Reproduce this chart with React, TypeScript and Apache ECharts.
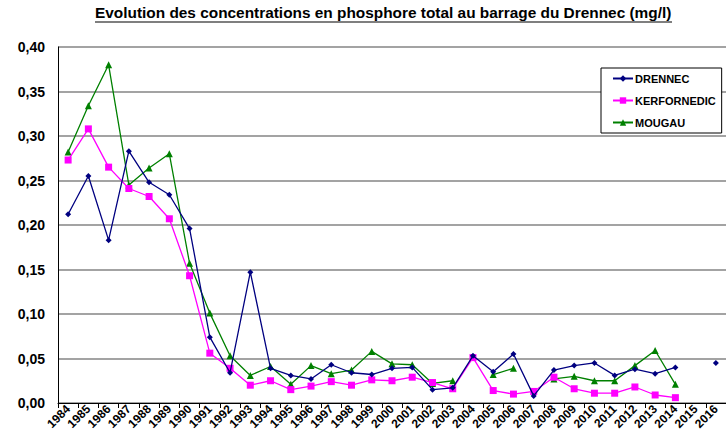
import React, { useEffect, useRef } from "react";
import * as echarts from "echarts";

const years = [
  "1984","1985","1986","1987","1988","1989","1990","1991","1992","1993","1994",
  "1995","1996","1997","1998","1999","2000","2001","2002","2003","2004","2005",
  "2006","2007","2008","2009","2010","2011","2012","2013","2014","2015","2016",
];

const drennec = [
  0.212, 0.255, 0.183, 0.283, 0.248, 0.234, 0.196, 0.074, 0.034, 0.147, 0.039,
  0.031, 0.027, 0.043, 0.034, 0.032, 0.039, 0.040, 0.015, 0.017, 0.053, 0.035,
  0.055, 0.008, 0.037, 0.042, 0.045, 0.031, 0.038, 0.033, 0.040, null, 0.045,
];

const kerfornedic = [
  0.273, 0.308, 0.265, 0.241, 0.232, 0.207, 0.143, 0.056, 0.039, 0.020, 0.025,
  0.015, 0.019, 0.024, 0.020, 0.026, 0.025, 0.029, 0.023, 0.016, 0.051, 0.014,
  0.010, 0.013, 0.029, 0.016, 0.011, 0.011, 0.018, 0.009, 0.006, null, null,
];

const mougau = [
  0.282, 0.334, 0.380, 0.245, 0.264, 0.280, 0.157, 0.101, 0.053, 0.031, 0.041,
  0.021, 0.042, 0.033, 0.037, 0.058, 0.044, 0.043, 0.022, 0.025, null, 0.032,
  0.039, null, 0.027, 0.030, 0.025, 0.025, 0.042, 0.059, 0.021, null, null,
];

const yTicks = { min: 0, max: 0.4, interval: 0.05 };

const titleText =
  "Evolution des concentrations en phosphore total au barrage du Drennec (mg/l)";

export default function App() {
  const ref = useRef<HTMLDivElement>(null);

  useEffect(() => {
    if (!ref.current) return;
    const chart = echarts.init(ref.current, undefined, { renderer: "svg" });
    const font = "Arial, 'Liberation Sans', sans-serif";
    chart.setOption({
      animation: false,
      backgroundColor: "#ffffff",
      textStyle: { fontFamily: font },
      graphic: [
        {
          type: "text",
          left: 95,
          top: 5,
          style: {
            text: titleText,
            font: "bold 15.4px Arial, 'Liberation Sans', sans-serif",
            fill: "#000",
          },
        },
        {
          type: "line",
          shape: { x1: 95, y1: 22, x2: 672, y2: 22 },
          style: { stroke: "#000", lineWidth: 1.2 },
        },
      ],
      legend: {
        orient: "vertical",
        left: 601,
        top: 68,
        width: 122,
        padding: [4, 6, 4, 11],
        itemWidth: 20,
        itemHeight: 8,
        itemGap: 9,
        borderColor: "#000",
        borderWidth: 1,
        borderRadius: 0,
        backgroundColor: "#fff",
        textStyle: {
          fontFamily: font,
          fontWeight: "bold",
          fontSize: 11,
          color: "#000",
          lineHeight: 13,
          padding: [0, 0, 0, -3],
        },
        data: ["DRENNEC", "KERFORNEDIC", "MOUGAU"],
      },
      grid: { left: 58, top: 47, width: 678, height: 356, containLabel: false },
      xAxis: {
        type: "category",
        data: years,
        boundaryGap: true,
        axisLine: { lineStyle: { color: "#000", width: 1 } },
        axisTick: { show: true, length: 5, lineStyle: { color: "#000" } },
        axisLabel: {
          rotate: 45,
          interval: 0,
          margin: 4,
          fontFamily: font,
          fontWeight: "bold",
          fontSize: 12,
          color: "#000",
        },
        splitLine: { show: false },
      },
      yAxis: {
        type: "value",
        min: yTicks.min,
        max: yTicks.max,
        interval: yTicks.interval,
        axisLine: { show: true, lineStyle: { color: "#000", width: 1 } },
        axisTick: { show: false },
        axisLabel: {
          margin: 13,
          fontFamily: font,
          fontWeight: "bold",
          fontSize: 14,
          color: "#000",
          formatter: (v: number) => v.toFixed(2).replace(".", ","),
        },
        splitLine: { show: true, lineStyle: { color: "#858585", width: 1.5 } },
      },
      series: [
        {
          name: "DRENNEC",
          type: "line",
          data: drennec,
          connectNulls: false,
          symbol: "diamond",
          symbolSize: 6,
          showAllSymbol: true,
          lineStyle: { color: "#000080", width: 1.3 },
          itemStyle: { color: "#000080" },
          z: 4,
        },
        {
          name: "KERFORNEDIC",
          type: "line",
          data: kerfornedic,
          connectNulls: false,
          symbol: "rect",
          symbolSize: 7,
          showAllSymbol: true,
          lineStyle: { color: "#ff00ff", width: 1.3 },
          itemStyle: { color: "#ff00ff" },
          z: 3,
        },
        {
          name: "MOUGAU",
          type: "line",
          data: mougau,
          connectNulls: false,
          symbol: "triangle",
          symbolSize: 7,
          showAllSymbol: true,
          lineStyle: { color: "#008000", width: 1.3 },
          itemStyle: { color: "#008000" },
          z: 2,
        },
      ],
    });
    return () => chart.dispose();
  }, []);

  return (
    <div
      ref={ref}
      style={{ position: "absolute", left: 0, top: 0, width: 726, height: 442 }}
    />
  );
}
